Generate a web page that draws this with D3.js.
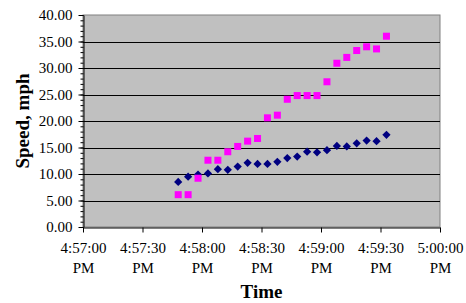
<!DOCTYPE html>
<html>
<head>
<meta charset="utf-8">
<script src="https://cdn.jsdelivr.net/npm/d3@7"></script>
<style>
  html, body { margin: 0; padding: 0; background: #fff; }
  svg { display: block; }
</style>
</head>
<body>
<script>
// ---- data ----
const times = ["4:57:48 PM","4:57:53 PM","4:57:58 PM","4:58:03 PM","4:58:08 PM","4:58:13 PM",
  "4:58:18 PM","4:58:23 PM","4:58:28 PM","4:58:33 PM","4:58:38 PM","4:58:43 PM","4:58:48 PM",
  "4:58:53 PM","4:58:58 PM","4:59:03 PM","4:59:08 PM","4:59:13 PM","4:59:18 PM","4:59:23 PM",
  "4:59:28 PM","4:59:33 PM"];
const seriesDiamond = [8.5, 9.5, 9.9, 10.1, 10.9, 10.8, 11.4, 12.1, 11.9, 11.9, 12.3,
  13.0, 13.3, 14.2, 14.1, 14.5, 15.3, 15.2, 15.8, 16.3, 16.2, 17.4];
const seriesSquare = [6.1, 6.1, 9.2, 12.6, 12.6, 14.2, 15.2, 16.2, 16.7, 20.6, 21.1,
  24.1, 24.8, 24.8, 24.8, 27.4, 30.9, 32.0, 33.3, 34.0, 33.6, 36.0];
const xTickLabels = ["4:57:00 PM","4:57:30 PM","4:58:00 PM","4:58:30 PM","4:59:00 PM","4:59:30 PM","5:00:00 PM"];
const yTicks = [0, 5, 10, 15, 20, 25, 30, 35, 40];
const xTitle = "Time";
const yTitle = "Speed, mph";

// ---- layout ----
const W = 466, H = 303;
const plot = { left: 83, right: 440, top: 15, bottom: 227 };
const FONT = "'Liberation Serif', 'Times New Roman', serif";

const parse = d3.timeParse("%I:%M:%S %p");
const tDates = times.map(parse);
const xTickDates = xTickLabels.map(parse);

const svg = d3.select("body").append("svg").attr("width", W).attr("height", H);
svg.append("rect").attr("width", W).attr("height", H).attr("fill", "#fff");

const x = d3.scaleTime().domain([xTickDates[0], xTickDates[xTickDates.length - 1]])
  .range([plot.left, plot.right]);
const y = d3.scaleLinear().domain([0, 40]).range([plot.bottom, plot.top]);

// plot area
svg.append("rect")
  .attr("x", plot.left).attr("y", plot.top)
  .attr("width", plot.right - plot.left).attr("height", plot.bottom - plot.top)
  .attr("fill", "#C0C0C0").attr("stroke", "#808080").attr("stroke-width", 1);

// gridlines
svg.append("g").selectAll("line").data(yTicks.filter(d => d > 0 && d < 40)).join("line")
  .attr("x1", plot.left).attr("x2", plot.right)
  .attr("y1", d => Math.round(y(d)) + 0.5).attr("y2", d => Math.round(y(d)) + 0.5)
  .attr("stroke", "#000").attr("stroke-width", 1);

// minor y ticks
const minorTicks = d3.range(0, 41, 1);
const yMinor = svg.append("g").attr("transform", `translate(${plot.left + 0.5},0)`)
  .call(d3.axisLeft(y).tickValues(minorTicks).tickSize(3).tickFormat(""));
yMinor.select(".domain").remove();
yMinor.selectAll("line").attr("stroke", "#000");

// y axis
const yAxis = svg.append("g").attr("transform", `translate(${plot.left + 0.5},0)`)
  .call(d3.axisLeft(y).tickValues(yTicks).tickSize(5).tickSizeOuter(0).tickPadding(6)
    .tickFormat(d => d.toFixed(2)));
yAxis.select(".domain").attr("stroke", "#000");
yAxis.selectAll("line").attr("stroke", "#000");
yAxis.selectAll("text").attr("font-family", FONT).attr("font-size", 15).attr("fill", "#000");

// x axis
const xAxis = svg.append("g").attr("transform", `translate(0,${plot.bottom + 0.5})`)
  .call(d3.axisBottom(x).tickValues(xTickDates).tickSize(5).tickSizeOuter(0).tickFormat(""));
xAxis.select(".domain").attr("stroke", "#000");
xAxis.selectAll("line").attr("stroke", "#000");
xAxis.selectAll(".tick").each(function(d, i) {
  const parts = xTickLabels[i].split(" ");
  const t = d3.select(this).append("text")
    .attr("font-family", FONT).attr("font-size", 15).attr("fill", "#000")
    .attr("text-anchor", "middle");
  t.append("tspan").attr("x", 0).attr("y", 25).text(parts[0]);
  t.append("tspan").attr("x", 0).attr("y", 45).text(parts[1]);
});

// series
const diamondSym = d3.symbol().type(d3.symbolSquare).size(34);
svg.append("g").selectAll("path").data(seriesDiamond).join("path")
  .attr("d", diamondSym)
  .attr("transform", (d, i) => `translate(${x(tDates[i])},${y(d)}) rotate(45)`)
  .attr("fill", "#000080");

const sq = 7;
svg.append("g").selectAll("rect").data(seriesSquare).join("rect")
  .attr("x", (d, i) => x(tDates[i]) - sq / 2).attr("y", d => y(d) - sq / 2)
  .attr("width", sq).attr("height", sq)
  .attr("fill", "#FF00FF");

// titles
svg.append("text").attr("x", (plot.left + plot.right) / 2).attr("y", 298)
  .attr("text-anchor", "middle").attr("font-family", FONT).attr("font-weight", "bold")
  .attr("font-size", 19).attr("fill", "#000").text(xTitle);
svg.append("text").attr("transform", `translate(29,${(plot.top + plot.bottom) / 2}) rotate(-90)`)
  .attr("text-anchor", "middle").attr("font-family", FONT).attr("font-weight", "bold")
  .attr("font-size", 19).attr("fill", "#000").text(yTitle);
</script>
</body>
</html>
